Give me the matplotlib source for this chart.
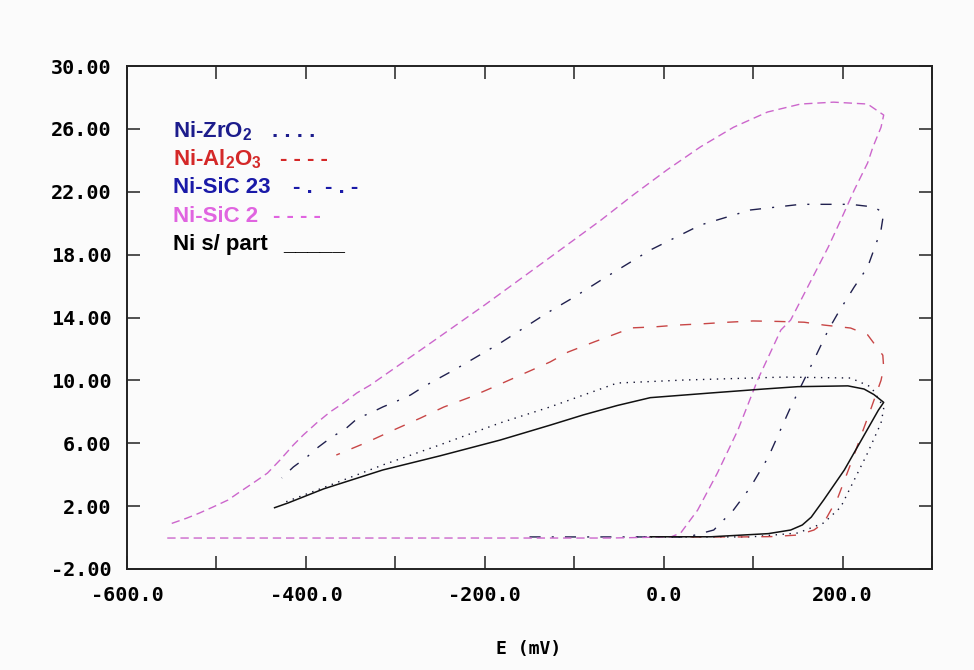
import matplotlib.pyplot as plt

# cyclic voltammograms, E in mV, current
zro2_e = [-30, 41, 97, 150, 179, 198, 213, 228, 243, 246, 243, 232, 209, 134, 22,
          -52, -127, -183, -250, -314, -370, -423]
zro2_i = [0.04, 0.04, 0.04, 0.29, 0.93, 1.94, 3.66, 5.38, 7.29, 8.2, 8.56, 9.58, 10.15,
          10.21, 10.02, 9.83, 8.31, 7.29, 5.9, 4.62, 3.4, 2.26]

al2o3_e = [30, 86, 120, 150, 168, 179, 195, 212, 223, 232, 243, 246, 245, 228, 209, 179,
           157, 128, 100, 72, 44, 16, -11, -40, -48, -78, -107, -127, -190, -216, -246,
           -272, -302, -331, -366]
al2o3_i = [0.04, 0.04, 0.06, 0.16, 0.48, 0.93, 2.58, 5.12, 6.84, 8.24, 10.0, 10.8, 11.6,
           12.9, 13.33, 13.52, 13.7, 13.75, 13.78, 13.7, 13.6, 13.52, 13.4, 13.33, 13.08,
           12.44, 11.8, 11.17, 9.58, 8.94, 8.3, 7.6, 6.84, 6.08, 5.25]

sic23_e = [-150, -80, -20, 27, 56, 78, 97, 117, 142, 168, 184, 195, 213, 228, 243, 246,
           235, 209, 153, 97, 41, -15, -70, -100, -130, -182, -230, -269, -283, -298, -314,
           -328, -342, -356, -371, -386, -399, -414, -427]
sic23_i = [0.04, 0.04, 0.04, 0.04, 0.48, 1.75, 3.2, 5.12, 8.3, 11.3, 13.2, 14.29, 15.94,
           17.2, 19.57, 20.65, 21.03, 21.2, 21.2, 20.84, 19.88, 18.29, 16.38, 15.3, 14.3,
           12.4, 10.8, 9.58, 9.07, 8.69, 8.31, 7.92, 7.6, 6.9, 6.4, 5.76, 5.12, 4.49, 3.79]

sic2_e = [-555, -300, -150, -60, 8, 19, 38, 60, 83, 105, 131, 142, 161, 184, 198, 213, 228,
          234, 243, 246, 228, 190, 153, 116, 78, 41, 4, -34, -70, -130, -200, -270, -328,
          -343, -358, -373, -388, -403, -414, -429, -443, -459, -474, -487, -504, -519,
          -533, -555]
sic2_i = [-0.03, -0.03, -0.03, -0.03, 0.04, 0.29, 1.75, 4.1, 6.84, 10.02, 13.2, 13.84,
          15.94, 18.48, 20.2, 22.1, 23.83, 24.85, 26.1, 26.88, 27.58, 27.7, 27.58, 27.07,
          26.1, 24.85, 23.4, 21.8, 20.2, 17.7, 14.8, 12.0, 9.7, 9.2, 8.56, 7.99, 7.29, 6.52,
          5.89, 4.93, 4.1, 3.47, 2.9, 2.39, 1.94, 1.56, 1.24, 0.8]

ni_e = [-15, 22, 53, 117, 142, 155, 165, 179, 202, 221, 240, 246, 235, 224, 206, 150, 112,
        53, -15, -52, -90, -127, -183, -250, -314, -380, -420, -435]
ni_i = [0.05, 0.05, 0.05, 0.25, 0.48, 0.8, 1.3, 2.4, 4.3, 6.2, 8.1, 8.6, 9.1, 9.45, 9.65,
        9.6, 9.45, 9.2, 8.9, 8.4, 7.8, 7.15, 6.2, 5.2, 4.3, 3.1, 2.2, 1.9]

x_ticks = [-600, -500, -400, -300, -200, -100, 0, 100, 200, 300]
x_labels = ['-600.0', '', '-400.0', '', '-200.0', '', '0.0', '', '200.0', '']
y_ticks = [-2, 2, 6, 10, 14, 18, 22, 26, 30]

legend_labels = ['Ni-ZrO$_2$', 'Ni-Al$_2$O$_3$', 'Ni-SiC 23', 'Ni-SiC 2', 'Ni s/ part']
legend_samples = ['. . . .', '- - - -', '- .  - . -', '- - - -', '_____']
legend_colors = ['#1c1c8c', '#d42828', '#1a1aa8', '#e064e0', '#000000']

plt.rcParams['mathtext.default'] = 'regular'
mono = 'DejaVu Sans Mono'

fig = plt.figure(figsize=(9.74, 6.70), dpi=100, facecolor='#fbfbfb')
ax = fig.add_axes([127/974, 1 - 569/670, 805/974, 503/670])
ax.set_facecolor('#fbfbfb')

ax.plot(zro2_e, zro2_i, color='#141432', lw=1.0, linestyle=(0, (1, 4)))
ax.plot(al2o3_e, al2o3_i, color='#c84646', lw=1.0, linestyle=(0, (8, 9)))
ax.plot(sic23_e, sic23_i, color='#20204e', lw=1.0, linestyle=(0, (8, 8, 1.5, 8)))
ax.plot(sic2_e, sic2_i, color='#cc66cc', lw=1.0, linestyle=(0, (6, 3.5)))
ax.plot(ni_e, ni_i, color='#111111', lw=1.1)

ax.set_xlim(-600, 300)
ax.set_ylim(-2, 30)
ax.set_xticks(x_ticks)
ax.set_xticklabels(x_labels)
ax.set_yticks(y_ticks)
ax.set_yticklabels(['%.2f' % v for v in y_ticks])
ax.tick_params(direction='in', length=9.5, width=1.1, color='#222222',
               top=True, right=True, labelsize=14.5)
ax.tick_params(axis='y', pad=11)
ax.tick_params(axis='x', pad=12)
for lab in ax.get_xticklabels() + ax.get_yticklabels():
    lab.set_family(mono)
    lab.set_weight('bold')
for sp in ax.spines.values():
    sp.set_linewidth(1.4)
    sp.set_color('#222222')

fig.text(529/974, 1 - 649/670, 'E (mV)', family=mono, weight='bold', fontsize=13,
         ha='center', va='center')

sample_x = [272, 280, 293, 273, 283]
for k in range(len(legend_labels)):
    yb = 1 - (137 + 28.2 * k) / 670
    fig.text(173/974, yb, legend_labels[k], color=legend_colors[k], family='Liberation Sans',
             weight='bold', fontsize=16, va='baseline')
    fig.text(sample_x[k]/974, yb, legend_samples[k], color=legend_colors[k],
             family='Liberation Sans', weight='bold', fontsize=16, va='baseline')

fig.savefig('out.png', dpi=100, facecolor=fig.get_facecolor())
